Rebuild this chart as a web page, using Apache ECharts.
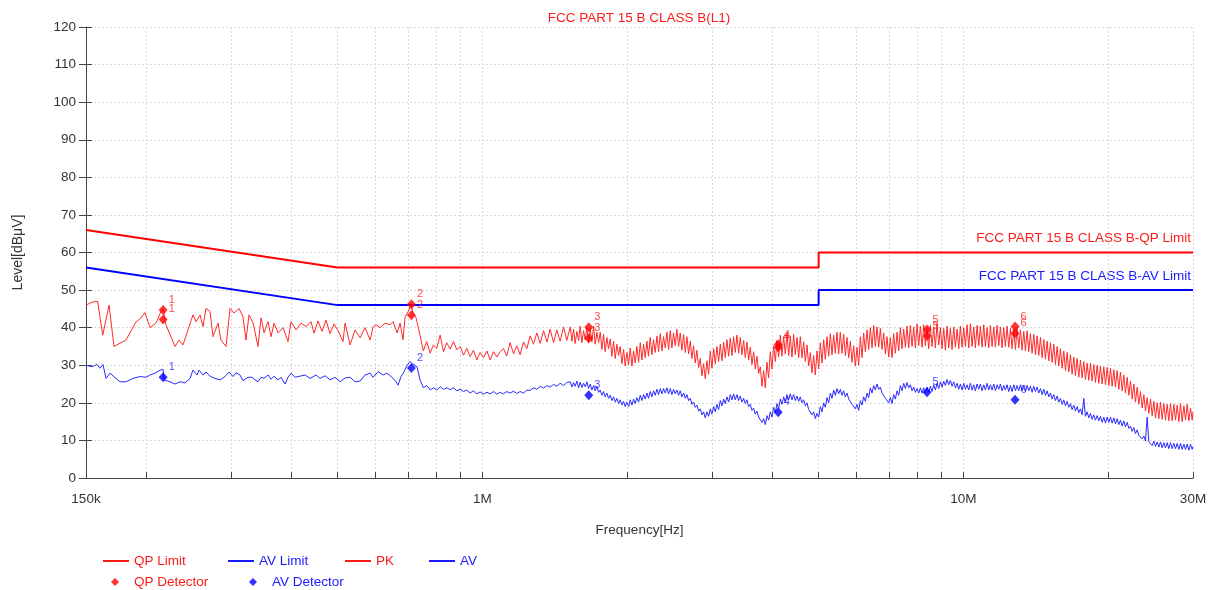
<!DOCTYPE html>
<html>
<head>
<meta charset="utf-8">
<title>FCC PART 15 B CLASS B(L1)</title>
<script src="https://cdn.jsdelivr.net/npm/echarts@6/dist/echarts.min.js"></script>
<style>
  html, body { margin: 0; padding: 0; background: #ffffff; }
  #chart { width: 1214px; height: 590px; }
</style>
</head>
<body>
<div id="chart"></div>
<script>
// ---- Conducted emission scan, line L1 (frequencies in kHz, levels in dBμV) ----

// Low band of the peak scan (sparser sweep)
const pkLowBand = [
  [150,46],[154.4,46.8],[158.6,47],[162.5,38],[167.5,46],[171.5,35],[181.6,36.7],[190.5,41.5],
  [195.2,42.6],[198.9,44],[203.8,40],[209.7,41.2],[214.8,44.3],[216.9,45],[220,40.7],[229.7,35],
  [234.1,36.7],[238.6,35.4],[250.3,43.4],[254,41.6],[258.9,43.4],[262.6,40.3],[266.4,45.1],[271.6,44.3],
  [275.5,37.6],[282.2,41.2],[286.2,36.7],[293.2,35],[298.9,45.1],[304.6,43.9],[312,45.1],[318,42.9],
  [322.6,36.7],[327.3,43.4],[333.7,41.2],[341.7,35],[346.7,42.6],[351.7,38.6],[358.5,41.6],[363.7,37.6],
  [369,41.2],[376.1,38.6],[385.2,40],[394.5,36.3],[400.2,41.6],[409.9,39.4],[419.8,41.2],[430,40.3],
  [440.4,41.6],[446.8,38.5],[455.4,41.8],[464.2,39],[473.2,42],[482.4,38.4],[491.7,41],[501.2,39.2],
  [513.3,36.3],[518.3,41.2],[530.9,35.4],[543.7,39.4],[557,37.3],[570.3,40],[584.3,36.7],[592.6,40.2],
  [601.2,40.7],[612.9,40],[627.7,41.2],[643,40.8],[652.2,41.6],[664.8,38.6],[674.5,41.2],[684.1,36.8],
  [690.7,42.8],[700.7,44.3],[710.8,46],[717.7,44],[728.1,42.6]
];

// Low band of the average scan
const avLowBand = [
  [150,30],[154.4,29.6],[158.1,30.2],[160.4,29.2],[162.7,30.2],[165.1,26.5],[168.3,27.9],[173.1,26.5],
  [176.5,25.6],[181.6,25.6],[187.8,26.5],[194.3,27],[199.9,26.8],[203.8,27.4],[208.7,27.9],[213.8,28.7],
  [216.9,28.9],[217.9,26.1],[224.3,25.6],[229.7,25],[235.3,25.6],[240.9,25.3],[246.8,26.5],[250.3,28.7],
  [255.2,27.4],[257.6,28.7],[262.6,27.4],[266.4,28.2],[271.6,27.1],[278.1,26.5],[284.9,26.1],[291.8,27],
  [297.4,28.2],[303.2,27],[307.5,28],[313.5,27.4],[318,25.9],[325.8,26.8],[332.1,26.8],[336.9,26.1],
  [341.7,25.6],[346.7,26.8],[351.7,26.5],[358.5,27.4],[363.7,26.3],[369,27.1],[376.1,26.1],[381.5,26.8],
  [388.9,25],[394.5,26.8],[400.2,27.9],[408,26.8],[417.9,27.1],[428,27.4],[438.4,26.5],[451.1,27.4],
  [459.9,26.5],[470.9,27.2],[482.4,26.1],[494,26.8],[506.1,25.6],[518.3,26.6],[530.9,26.8],[543.7,25.6],
  [557,25.8],[570.3,27.4],[584.3,27.9],[592.6,26.8],[607,28.3],[621.7,27.4],[633.7,27.9],[643,27.2],
  [652.2,26.5],[661.6,25.6],[668,24.7],[677.6,27],[687.4,28.3],[697.4,30],[707.6,31],[714.3,30.4],
  [721.1,30.2],[731.6,29.6]
];

// Upper band: shared sweep frequencies (kHz)
const sweepKHz = [
  742, 754, 766, 779, 791, 804, 817, 830, 843, 857, 871, 885, 899, 914, 928,
  943, 958, 974, 989, 1005, 1022, 1038, 1055, 1072, 1089, 1106, 1124, 1142, 1161, 1179,
  1198, 1218, 1237, 1257, 1277, 1298, 1319, 1340, 1362, 1383, 1406, 1428, 1451, 1475, 1498,
  1523, 1535, 1547, 1559, 1572, 1585,
  1597, 1610, 1623, 1636, 1649, 1662,
  1676, 1689, 1703, 1716, 1730, 1744,
  1758, 1772, 1786, 1800, 1815, 1829,
  1844, 1859, 1874, 1889, 1904, 1919,
  1934, 1950, 1966, 1981, 1997, 2013,
  2029, 2046, 2062, 2078, 2095, 2112,
  2129, 2146, 2163, 2180, 2198, 2215,
  2233, 2251, 2269, 2287, 2306, 2324,
  2343, 2362, 2380, 2400, 2419, 2438,
  2458, 2477, 2497, 2517, 2537, 2558,
  2578, 2599, 2620, 2641, 2662, 2683,
  2705, 2726, 2748, 2770, 2792, 2815,
  2837, 2860, 2883, 2906, 2929, 2953,
  2977, 3000, 3025, 3049, 3073, 3098,
  3123, 3148, 3173, 3198, 3224, 3250,
  3276, 3302, 3328, 3355, 3382, 3409,
  3436, 3464, 3492, 3520, 3548, 3576,
  3605, 3634, 3663, 3692, 3722, 3752,
  3782, 3812, 3843, 3873, 3905, 3936,
  3967, 3999, 4031, 4064, 4096, 4129,
  4162, 4195, 4229, 4263, 4297, 4331,
  4366, 4401, 4436, 4472, 4508, 4544,
  4580, 4617, 4654, 4691, 4729, 4767,
  4805, 4843, 4882, 4921, 4961, 5001,
  5041, 5081, 5122, 5163, 5204, 5246,
  5288, 5330, 5373, 5416, 5459, 5503,
  5547, 5592, 5636, 5682, 5727, 5773,
  5819, 5866, 5913, 5960, 6008, 6056,
  6105, 6154, 6203, 6253, 6303, 6353,
  6404, 6456, 6507, 6559, 6612, 6665,
  6718, 6772, 6827, 6881, 6936, 6992,
  7048, 7104, 7161, 7219, 7277, 7335,
  7394, 7453, 7513, 7573, 7633, 7695,
  7756, 7818, 7881, 7944, 8008, 8072,
  8137, 8202, 8268, 8334, 8401, 8468,
  8536, 8604, 8673, 8743, 8813, 8883,
  8955, 9026, 9099, 9172, 9245, 9319,
  9394, 9469, 9545, 9622, 9699, 9776,
  9855, 9934, 10013, 10093, 10174, 10256,
  10338, 10421, 10504, 10588, 10673, 10759,
  10845, 10932, 11019, 11108, 11197, 11286,
  11377, 11468, 11560, 11652, 11746, 11840,
  11935, 12031, 12127, 12224, 12322, 12421,
  12521, 12621, 12722, 12824, 12927, 13030,
  13135, 13240, 13346, 13453, 13561, 13669,
  13779, 13889, 14001, 14113, 14226, 14340,
  14455, 14571, 14687, 14805, 14924, 15043,
  15164, 15285, 15408, 15531, 15656, 15781,
  15908, 16035, 16164, 16293, 16424, 16555,
  16688, 16822, 16956, 17092, 17229, 17367,
  17507, 17647, 17788, 17931, 18075, 18219,
  18366, 18513, 18661, 18811, 18962, 19113,
  19267, 19421, 19577, 19734, 19892, 20051,
  20212, 20374, 20537, 20702, 20867, 21035,
  21203, 21373, 21544, 21716, 21891, 22066,
  22243, 22421, 22601, 22782, 22964, 23148,
  23334, 23521, 23709, 23899, 24091, 24284,
  24479, 24675, 24873, 25072, 25273, 25475,
  25679, 25885, 26092, 26301, 26512, 26724,
  26939, 27155, 27372, 27592, 27812, 28035,
  28260, 28486, 28715, 28944, 29176, 29410,
  29647, 29884, 30000
];

// Upper band: peak detector levels (dBμV)
const pkSweep = [
  38, 33.8, 36.3, 33.2, 35.4, 34.5, 38, 33.6, 36, 34.3, 36.3, 34.1, 35, 32.7, 34.5,
  32.3, 34, 31.4, 33.4, 32, 33.8, 31.4, 33.6, 32.2, 33.6, 34.5, 32.5, 36, 33, 35.2,
  32.8, 36.2, 34.4, 37.8, 35.6, 38.6, 35.8, 39.2, 36.2, 39.6, 36, 39.4, 36.4, 40.2, 36.6,
  40.2, 36.4, 39.6, 35.8, 39.0, 36.6,
  40.4, 36.0, 39.2, 36.8, 40.0, 35.9,
  39.8, 36.2, 40.4, 35.6, 38.8, 36.0,
  38.8, 34.2, 38.2, 33.6, 37.4, 34.4,
  37.0, 32.4, 36.4, 31.8, 35.6, 32.6,
  35.0, 30.4, 34.2, 29.8, 33.4, 30.2,
  34.6, 29.8, 33.8, 30.6, 35.0, 30.8,
  36.0, 31.4, 35.6, 32.0, 36.4, 32.4,
  37.4, 32.8, 36.8, 33.4, 37.8, 33.6,
  38.4, 33.8, 37.6, 34.6, 38.8, 34.2,
  39.2, 34.6, 38.6, 35.2, 39.6, 35.0,
  38.6, 34.0, 38.2, 33.4, 37.6, 33.0,
  36.4, 31.8, 35.2, 30.6, 34.0, 29.4,
  31.8, 27.2, 30.4, 26.4, 31.2, 27.6,
  33.8, 29.2, 34.4, 30.4, 35.0, 31.0,
  35.6, 31.2, 36.2, 32.0, 36.8, 32.4,
  37.2, 32.6, 37.6, 33.4, 38.0, 33.2,
  37.4, 32.8, 36.6, 32.0, 36.2, 31.4,
  34.8, 30.2, 33.6, 29.0, 32.4, 27.8,
  29.6, 24.4, 28.6, 24.0, 30.8, 26.6,
  33.6, 29.0, 35.2, 31.0, 36.6, 32.2,
  38.0, 32.4, 37.6, 33.0, 38.4, 32.6,
  37.8, 32.2, 38.2, 32.8, 37.4, 32.0,
  37.6, 32.0, 36.2, 31.0, 35.4, 29.8,
  33.4, 28.0, 32.6, 27.4, 33.8, 29.0,
  36.0, 30.6, 36.8, 31.6, 37.6, 32.4,
  38.4, 32.8, 38.0, 33.2, 38.8, 33.0,
  38.8, 33.2, 38.2, 32.6, 37.4, 32.0,
  36.4, 30.8, 35.2, 29.8, 34.8, 30.0,
  37.6, 32.0, 38.6, 33.6, 39.4, 34.2,
  40.0, 34.6, 40.6, 35.0, 40.2, 34.8,
  39.8, 34.2, 38.6, 33.0, 37.6, 32.2,
  37.4, 32.0, 38.4, 33.2, 38.8, 33.8,
  40.0, 34.4, 39.6, 34.8, 40.4, 34.6,
  40.6, 35.0, 40.2, 34.6, 41.0, 35.2,
  40.4, 34.8, 40.8, 35.2, 40.0, 34.4,
  40.6, 35.0, 40.2, 34.6, 41.2, 35.4,
  40.0, 34.4, 39.8, 34.0, 40.4, 34.6,
  39.8, 34.2, 40.2, 34.8, 39.6, 34.4,
  40.4, 34.8, 40.0, 35.0, 40.8, 34.6,
  41.0, 35.0, 40.2, 34.6, 40.6, 35.2,
  40.4, 34.8, 40.8, 35.0, 40.0, 34.6,
  40.6, 35.0, 40.2, 34.8, 40.6, 35.2,
  40.2, 34.6, 40.0, 35.0, 40.4, 34.8,
  39.8, 34.4, 39.6, 34.2, 40.0, 34.6,
  39.4, 34.0, 39.0, 33.8, 39.2, 33.6,
  38.4, 33.2, 38.2, 32.8, 37.8, 32.6,
  37.4, 32.0, 36.8, 31.6, 36.4, 31.2,
  36.0, 30.8, 35.6, 30.2, 35.0, 29.8,
  34.4, 29.2, 33.8, 28.6, 33.4, 28.2,
  32.8, 27.6, 32.2, 27.2, 31.8, 26.8,
  31.4, 26.6, 31.0, 26.2, 30.6, 26.0,
  30.6, 25.8, 30.2, 25.4, 30.0, 25.2,
  29.8, 25.0, 29.6, 24.8, 29.4, 24.6,
  29.2, 24.4, 28.8, 24.2, 28.6, 23.6,
  28.2, 23.2, 27.4, 22.6, 26.8, 22.0,
  25.8, 21.0, 25.0, 20.2, 24.2, 19.6,
  23.0, 18.6, 22.2, 17.8, 21.4, 17.2,
  21.0, 16.6, 20.4, 16.0, 20.0, 15.8,
  20.2, 15.6, 19.8, 15.4, 19.6, 15.2,
  19.8, 15.2, 19.6, 15.4, 19.4, 15.0,
  19.8, 15.0, 19.2, 15.4, 19.6, 15.2,
  18.6, 15.4, 17.6
];

// Upper band: average detector levels (dBμV)
const avSweep = [
  26.1, 24, 24.6, 23.4, 24, 23.4, 24.3, 23.6, 24, 23.5, 24, 23.2, 23.6, 23, 23.4,
  22.6, 23.2, 22.4, 22.9, 22.3, 22.8, 22.4, 23, 22.3, 22.8, 22.4, 23, 22.6, 23.1, 22.5,
  23, 22.6, 23.4, 23.3, 24, 23.6, 24.4, 23.9, 24.6, 24.2, 24.9, 24.4, 25.2, 24.6, 25.4,
  25.6, 24.2, 25.4, 24.4, 25.8, 24.0,
  25.5, 24.1, 25.2, 24.3, 25.6, 23.8,
  25.0, 23.4, 24.6, 23.2, 24.4, 22.8,
  23.4, 22.0, 23.0, 21.6, 22.6, 21.2,
  22.0, 20.6, 21.6, 20.2, 21.2, 19.8,
  20.8, 19.4, 20.4, 19.0, 20.2, 19.0,
  20.8, 19.4, 21.0, 19.8, 21.4, 20.2,
  22.0, 20.6, 22.2, 21.0, 22.6, 21.2,
  23.0, 21.6, 23.2, 22.0, 23.6, 22.2,
  23.8, 22.4, 23.8, 22.6, 24.0, 22.4,
  23.8, 22.2, 23.6, 22.4, 23.4, 22.0,
  23.2, 21.6, 22.6, 21.2, 22.2, 20.6,
  21.2, 19.6, 20.2, 18.8, 19.4, 17.8,
  18.4, 16.8, 17.6, 16.0, 17.6, 16.4,
  18.4, 17.0, 19.0, 17.6, 19.6, 18.2,
  20.6, 19.2, 21.0, 19.8, 21.6, 20.2,
  22.2, 20.8, 22.4, 20.8, 22.2, 20.6,
  21.8, 20.2, 21.2, 19.8, 20.8, 19.0,
  19.6, 18.0, 18.6, 17.0, 17.8, 16.2,
  16.4, 14.8, 15.8, 14.2, 16.6, 15.4,
  17.6, 16.2, 18.8, 17.4, 19.8, 18.4,
  21.0, 19.6, 21.6, 20.2, 22.2, 20.8,
  22.4, 20.8, 22.2, 20.6, 21.8, 20.4,
  21.6, 20.0, 20.8, 19.2, 20.0, 18.2,
  18.4, 16.8, 17.6, 15.8, 17.2, 16.2,
  19.0, 17.6, 20.0, 18.8, 21.4, 20.0,
  22.6, 21.2, 23.4, 22.0, 23.8, 22.4,
  23.6, 22.0, 23.2, 21.6, 22.6, 21.0,
  21.2, 19.6, 20.0, 18.4, 19.6, 18.0,
  20.6, 19.4, 21.6, 20.4, 22.6, 21.4,
  24.0, 22.6, 24.6, 23.4, 25.0, 23.6,
  24.2, 22.6, 23.0, 21.2, 21.6, 20.0,
  21.4, 19.8, 22.2, 21.0, 23.2, 22.0,
  24.6, 23.2, 25.2, 23.8, 25.4, 24.0,
  24.8, 23.2, 24.2, 22.8, 23.8, 22.6,
  24.0, 22.6, 24.0, 22.6, 24.2, 22.8,
  24.4, 23.0, 24.8, 23.4, 25.2, 23.8,
  25.6, 24.2, 25.8, 24.6, 26.2, 24.8,
  26.0, 24.4, 25.6, 24.0, 25.2, 23.6,
  25.0, 23.4, 25.2, 23.6, 24.8, 23.4,
  25.2, 23.4, 24.8, 23.2, 25.0, 23.6,
  25.0, 23.2, 24.8, 23.4, 25.2, 23.4,
  24.8, 23.4, 25.0, 23.2, 24.8, 23.6,
  25.0, 23.2, 24.6, 23.4, 24.8, 23.0,
  24.6, 23.0, 24.8, 23.2, 24.6, 23.2,
  24.8, 23.2, 24.6, 23.0, 24.6, 23.2,
  24.4, 22.8, 24.4, 23.0, 24.2, 22.6,
  23.8, 22.2, 23.6, 22.0, 23.2, 21.6,
  22.6, 21.0, 22.2, 20.6, 21.8, 20.2,
  21.2, 19.6, 20.8, 19.2, 20.4, 18.8,
  19.8, 18.2, 19.4, 17.8, 19.0, 17.4,
  18.4, 16.8, 21.2, 16.4, 17.6, 16.0,
  17.2, 15.6, 16.8, 15.4, 16.6, 15.2,
  16.4, 14.8, 16.2, 14.6, 16.2, 14.8,
  16.2, 14.6, 16.0, 14.4, 15.8, 14.2,
  15.4, 13.8, 15.2, 13.6, 14.8, 13.2,
  13.8, 12.4, 13.4, 11.8, 12.8, 11.4,
  11.8, 10.4, 11.2, 9.8, 16.2, 9.6,
  10.0, 8.6, 9.8, 8.4, 9.6, 8.2,
  9.6, 8.0, 9.4, 8.0, 9.4, 7.8,
  9.4, 7.8, 9.2, 7.8, 9.2, 7.6,
  9.2, 7.6, 9.0, 7.6, 9.0, 7.4,
  9.0, 7.6, 8.4
];

// FCC Part 15 Class B conducted limits
const limitKHz     = [150, 500, 5000, 5000, 30000];
const qpLimitLevel = [66, 56, 56, 60, 60];
const avLimitLevel = [56, 46, 46, 50, 50];

// Final measurement points
const markerKHz   = [217, 712, 1664, 4120, 8400, 12800];
const pkMarkLevel = [44.7, 46.2, 40.1, 35.5, 39.5, 40.3];
const qpDetLevel  = [42.2, 43.3, 37.2, 34.8, 37.8, 38.5];
const avDetLevel  = [26.8, 29.3, 22.0, 17.5, 22.8, 20.8];

// Axis ticks (Hz) and labelled ticks
const tickHz = [150e3, 200e3, 300e3, 400e3, 500e3, 600e3, 700e3, 800e3, 900e3,
                1e6, 2e6, 3e6, 4e6, 5e6, 6e6, 7e6, 8e6, 9e6, 10e6, 20e6, 30e6];
const labelHz   = [150e3, 1e6, 10e6, 30e6];
const labelText = ['150k', '1M', '10M', '30M'];

// ---- build chart ----
const RED = '#ff1a1a';
const BLUE = '#1a1aff';
const FONT = '"Liberation Sans", Arial, sans-serif';
const FS = 13.5;

const toHz = (k) => k * 1000;
const pkData = pkLowBand.map(p => [toHz(p[0]), p[1]])
  .concat(sweepKHz.map((k, i) => [toHz(k), pkSweep[i]]));
const avData = avLowBand.map(p => [toHz(p[0]), p[1]])
  .concat(sweepKHz.map((k, i) => [toHz(k), avSweep[i]]));
const qpLimitData = limitKHz.map((k, i) => [toHz(k), qpLimitLevel[i]]);
const avLimitData = limitKHz.map((k, i) => [toHz(k), avLimitLevel[i]]);
const markers = (levels) => markerKHz.map((k, i) => ({ name: String(i + 1), value: [toHz(k), levels[i]] }));

const markerLabel = (color) => ({
  show: true, formatter: '{b}', position: 'right', distance: 1, offset: [0, -10],
  color: color, fontSize: 11, fontFamily: FONT
});

// legend entries: line swatches on the first row, detector diamonds on the second
const legendDefs = [
  { name: 'QP Limit',    color: RED,  left: 103, top: 554, icon: 'rect',    w: 26, h: 2, pad: 0 },
  { name: 'AV Limit',    color: BLUE, left: 228, top: 554, icon: 'rect',    w: 26, h: 2, pad: 0 },
  { name: 'PK',          color: RED,  left: 345, top: 554, icon: 'rect',    w: 26, h: 2, pad: 0 },
  { name: 'AV',          color: BLUE, left: 429, top: 554, icon: 'rect',    w: 26, h: 2, pad: 0 },
  { name: 'QP Detector', color: RED,  left: 111, top: 575, icon: 'diamond', w: 8,  h: 8, pad: 10 },
  { name: 'AV Detector', color: BLUE, left: 249, top: 575, icon: 'diamond', w: 8,  h: 8, pad: 10 }
];

const chart = echarts.init(document.getElementById('chart'), null, { renderer: 'canvas' });

const gridLine = { show: true, lineStyle: { color: '#d9d9d9', type: [2, 2], width: 1 } };

chart.setOption({
  animation: false,
  backgroundColor: '#ffffff',
  textStyle: { fontFamily: FONT },
  title: {
    text: 'FCC PART 15 B CLASS B(L1)',
    left: 639, top: 11, textAlign: 'center', padding: 0,
    textStyle: { color: RED, fontSize: FS, fontWeight: 'normal', fontFamily: FONT }
  },
  grid: { left: 86, right: 21, top: 27, bottom: 112, containLabel: false },
  legend: legendDefs.map(d => ({
    data: [{ name: d.name, icon: d.icon, textStyle: { color: d.color } }],
    left: d.left, top: d.top, padding: 0,
    itemWidth: d.w, itemHeight: d.h, selectedMode: false,
    textStyle: { fontSize: FS, fontFamily: FONT, color: d.color, padding: [0, 0, 0, d.pad] }
  })),
  xAxis: {
    type: 'log', logBase: 10, min: 150000, max: 30000000,
    name: 'Frequency[Hz]', nameLocation: 'middle', nameGap: 45,
    nameTextStyle: { color: '#333', fontSize: FS, fontFamily: FONT },
    axisLine: { show: true, lineStyle: { color: '#444', width: 1 } },
    axisTick: { show: true, inside: true, length: 6, customValues: tickHz, lineStyle: { color: '#444' } },
    axisLabel: {
      show: true, customValues: labelHz, margin: 14, color: '#333', fontSize: FS, fontFamily: FONT,
      showMinLabel: true, showMaxLabel: true,
      formatter: (v) => {
        const i = labelHz.findIndex(h => Math.abs(h - v) / h < 1e-6);
        return i >= 0 ? labelText[i] : '';
      }
    },
    splitLine: gridLine,
    minorTick: { show: false }, minorSplitLine: { show: false }
  },
  yAxis: [
    {
      type: 'value', min: 0, max: 120, interval: 10,
      name: 'Level[dBμV]', nameLocation: 'middle', nameGap: 61,
      nameTextStyle: { color: '#333', fontSize: 14, fontFamily: FONT },
      axisLine: { show: true, lineStyle: { color: '#444', width: 1 } },
      axisTick: { show: true, inside: false, length: 7, lineStyle: { color: '#444' } },
      axisLabel: { margin: 10, color: '#333', fontSize: FS, fontFamily: FONT },
      splitLine: gridLine
    },
    {
      type: 'value', min: 0, max: 120, interval: 10, position: 'left', offset: 0,
      axisLine: { show: false },
      axisTick: { show: true, inside: true, length: 6, lineStyle: { color: '#444' } },
      axisLabel: { show: false },
      splitLine: { show: false }
    }
  ],
  graphic: [
    {
      type: 'text', x: 1191, y: 238, silent: true,
      style: { text: 'FCC PART 15 B CLASS B-QP Limit', fill: RED, font: FS + 'px ' + FONT,
               align: 'right', verticalAlign: 'middle', textAlign: 'right', textVerticalAlign: 'middle' }
    },
    {
      type: 'text', x: 1191, y: 276, silent: true,
      style: { text: 'FCC PART 15 B CLASS B-AV Limit', fill: BLUE, font: FS + 'px ' + FONT,
               align: 'right', verticalAlign: 'middle', textAlign: 'right', textVerticalAlign: 'middle' }
    }
  ],
  series: [
    {
      name: 'PK', type: 'line', data: pkData, showSymbol: false, symbol: 'none',
      sampling: null, z: 2, color: RED,
      lineStyle: { color: '#ff2a2a', width: 1 }
    },
    {
      name: 'AV', type: 'line', data: avData, showSymbol: false, symbol: 'none',
      sampling: null, z: 2, color: BLUE,
      lineStyle: { color: '#2a2aff', width: 1 }
    },
    {
      name: 'QP Limit', type: 'line', data: qpLimitData, showSymbol: false, symbol: 'none',
      z: 3, color: RED, lineStyle: { color: '#ff0000', width: 2 }
    },
    {
      name: 'AV Limit', type: 'line', data: avLimitData, showSymbol: false, symbol: 'none',
      z: 3, color: BLUE, lineStyle: { color: '#0000ff', width: 2 }
    },
    {
      name: 'PK Peak', type: 'scatter', data: markers(pkMarkLevel), symbol: 'diamond',
      symbolSize: [9, 10], z: 4, itemStyle: { color: '#ff0000' }, label: markerLabel(RED)
    },
    {
      name: 'QP Detector', type: 'scatter', data: markers(qpDetLevel), symbol: 'diamond',
      symbolSize: [9, 10], z: 4, color: RED, itemStyle: { color: '#ff0000' }, label: markerLabel(RED)
    },
    {
      name: 'AV Detector', type: 'scatter', data: markers(avDetLevel), symbol: 'diamond',
      symbolSize: [9, 10], z: 4, color: BLUE, itemStyle: { color: '#0000ff' }, label: markerLabel(BLUE)
    }
  ]
});
</script>
</body>
</html>
